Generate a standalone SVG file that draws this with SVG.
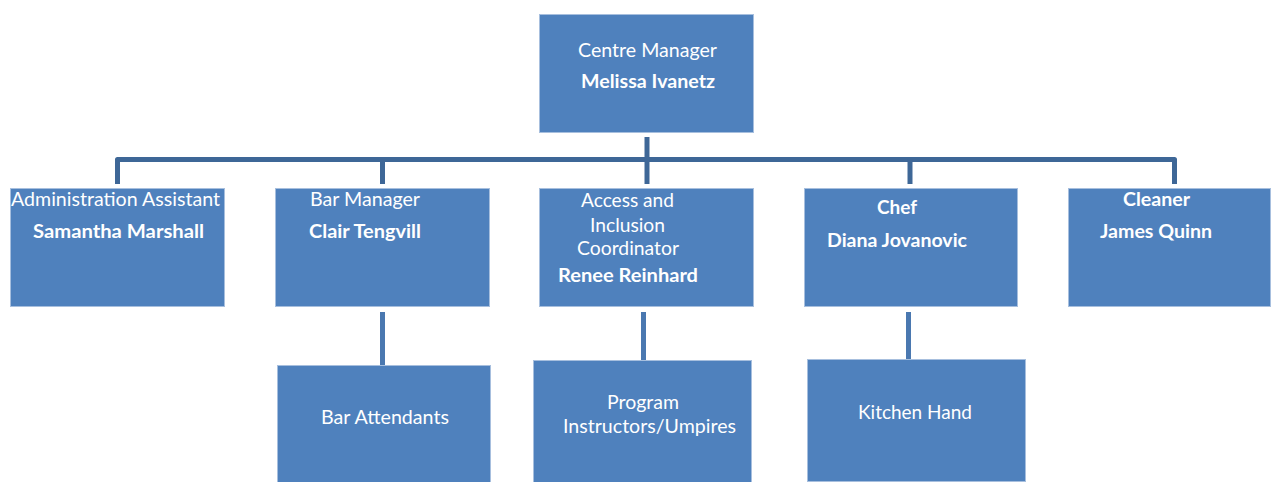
<svg xmlns="http://www.w3.org/2000/svg" width="1271" height="482" viewBox="0 0 1271 482">
<style>
.box{fill:#4F81BD;stroke:#A7BFDE;stroke-width:1}
.t{font-family:Lato,"Liberation Sans",sans-serif;font-size:19px;fill:#ffffff;text-anchor:middle}
.b{font-weight:bold}
.c1{fill:none;stroke:#3E6797;stroke-width:5;stroke-linejoin:round}
.c2{fill:none;stroke:#4A78B0;stroke-width:5}
</style>
<rect width="1271" height="482" fill="#ffffff"/>
<g id="connectors">
<path class="c1" d="M117.5,184 V159.5 H1174.5 V184"/>
<path class="c1" d="M647,137 V184"/>
<path class="c1" d="M382.5,159.5 V184"/>
<path class="c1" d="M910,159.5 V184"/>
<path class="c2" d="M382.5,312 V365"/>
<path class="c2" d="M643.5,312 V360"/>
<path class="c2" d="M908.5,312 V359"/>
</g>
<g id="centre-manager">
<rect class="box" x="539.5" y="14.5" width="214" height="118"/>
<text class="t" x="647.5" y="57" textLength="139" lengthAdjust="spacingAndGlyphs">Centre Manager</text>
<text class="t b" x="648" y="88" textLength="134" lengthAdjust="spacingAndGlyphs">Melissa Ivanetz</text>
</g>
<g id="admin-assistant">
<rect class="box" x="10.5" y="188.5" width="214" height="118"/>
<text class="t" x="115.5" y="206" textLength="209" lengthAdjust="spacingAndGlyphs">Administration Assistant</text>
<text class="t b" x="118.5" y="238" textLength="171" lengthAdjust="spacingAndGlyphs">Samantha Marshall</text>
</g>
<g id="bar-manager">
<rect class="box" x="275.5" y="188.5" width="214" height="118"/>
<text class="t" x="365" y="206" textLength="110" lengthAdjust="spacingAndGlyphs">Bar Manager</text>
<text class="t b" x="365" y="238" textLength="112" lengthAdjust="spacingAndGlyphs">Clair Tengvill</text>
</g>
<g id="access-inclusion">
<rect class="box" x="539.5" y="188.5" width="214" height="118"/>
<text class="t" x="627.5" y="207" textLength="93" lengthAdjust="spacingAndGlyphs">Access and</text>
<text class="t" x="627.5" y="232" textLength="75" lengthAdjust="spacingAndGlyphs">Inclusion</text>
<text class="t" x="628" y="255" textLength="102" lengthAdjust="spacingAndGlyphs">Coordinator</text>
<text class="t b" x="628" y="282" textLength="140" lengthAdjust="spacingAndGlyphs">Renee Reinhard</text>
</g>
<g id="chef">
<rect class="box" x="804.5" y="188.5" width="213" height="118"/>
<text class="t b" x="897" y="214" textLength="40" lengthAdjust="spacingAndGlyphs">Chef</text>
<text class="t b" x="897" y="247" textLength="140" lengthAdjust="spacingAndGlyphs">Diana Jovanovic</text>
</g>
<g id="cleaner">
<rect class="box" x="1068.5" y="188.5" width="202" height="118"/>
<text class="t b" x="1156.5" y="206" textLength="67" lengthAdjust="spacingAndGlyphs">Cleaner</text>
<text class="t b" x="1156" y="238" textLength="112" lengthAdjust="spacingAndGlyphs">James Quinn</text>
</g>
<g id="bar-attendants">
<rect class="box" x="277.5" y="365.5" width="213" height="117"/>
<text class="t" x="385" y="424" textLength="128" lengthAdjust="spacingAndGlyphs">Bar Attendants</text>
</g>
<g id="program-instructors">
<rect class="box" x="533.5" y="360.5" width="218" height="122"/>
<text class="t" x="643" y="409" textLength="72" lengthAdjust="spacingAndGlyphs">Program</text>
<text class="t" x="649.5" y="433" textLength="173" lengthAdjust="spacingAndGlyphs">Instructors/Umpires</text>
</g>
<g id="kitchen-hand">
<rect class="box" x="807.5" y="359.5" width="218" height="122"/>
<text class="t" x="915" y="419" textLength="114" lengthAdjust="spacingAndGlyphs">Kitchen Hand</text>
</g>
</svg>
